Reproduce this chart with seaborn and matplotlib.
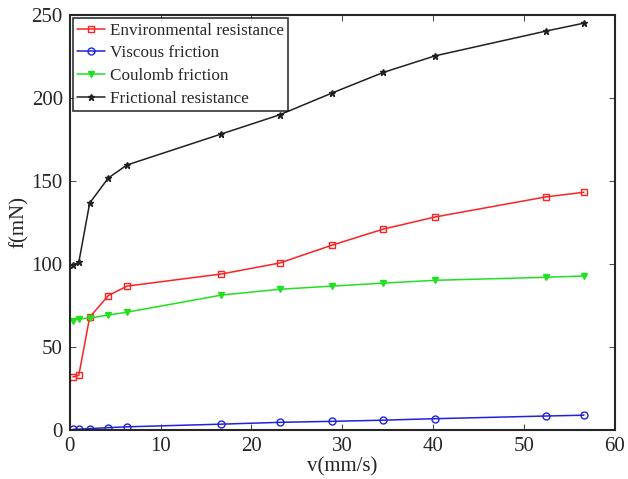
import seaborn as sns
import pandas as pd
import matplotlib.pyplot as plt

# velocity (mm/s)
v = [0.35, 1.0, 2.2, 4.25, 6.3, 16.7, 23.1, 28.9, 34.5, 40.2, 52.4, 56.6]

env_res = [32, 33, 68, 81, 86.7, 94, 100.6, 111.4, 121, 128.3, 140.4, 143.2]
viscous = [0.5, 0.6, 0.9, 1.5, 2.0, 3.6, 4.7, 5.3, 6.0, 6.9, 8.5, 9.0]
coulomb = [65.7, 67, 67.5, 69.3, 71, 81.3, 84.8, 86.7, 88.5, 90.2, 92, 92.8]
frictional = [99.4, 101, 136.7, 151.8, 159.6, 178.3, 189.8, 203, 215.3, 225.3, 240.2, 245]

labels = ['Environmental resistance', 'Viscous friction', 'Coulomb friction', 'Frictional resistance']

df = pd.DataFrame({'v': v, labels[0]: env_res, labels[1]: viscous,
                   labels[2]: coulomb, labels[3]: frictional})

sns.set_style('ticks')
plt.rcParams['font.family'] = ['Liberation Serif', 'DejaVu Serif']

fig = plt.figure(figsize=(6.28, 4.79), dpi=100)
ax = fig.add_axes([0.111, 0.102, 0.868, 0.867])

styles = [
    dict(color='#ff2020', marker='s', markerfacecolor='none', markersize=5),
    dict(color='#2020e0', marker='o', markerfacecolor='none', markersize=5),
    dict(color='#20e020', marker='v', markersize=5),
    dict(color='#202020', marker='*', markersize=5),
]
for lab, st in zip(labels, styles):
    sns.lineplot(data=df, x='v', y=lab, ax=ax, label=lab, linewidth=1.1,
                 markeredgecolor=st['color'], markeredgewidth=1, **st)

ax.set_xlim(0, 60)
ax.set_ylim(0, 250)
ax.set_xticks(range(0, 61, 10))
ax.set_yticks(range(0, 251, 50))
ax.tick_params(direction='in', top=True, right=True, labelsize=15, length=4, width=0.6, pad=5)
for s in ax.spines.values():
    s.set_linewidth(1.5)
ax.set_xlabel('v(mm/s)', fontsize=15, labelpad=1)
ax.set_ylabel('f(mN)', fontsize=15, labelpad=2)

leg = ax.legend(loc='upper left', fontsize=12.3, frameon=True, fancybox=False,
                edgecolor='black', handlelength=1.6, handletextpad=0.3,
                borderaxespad=0.2, labelspacing=0.4, borderpad=0.25)
leg.get_frame().set_linewidth(1.2)

fig.savefig('out.png', dpi=100)
